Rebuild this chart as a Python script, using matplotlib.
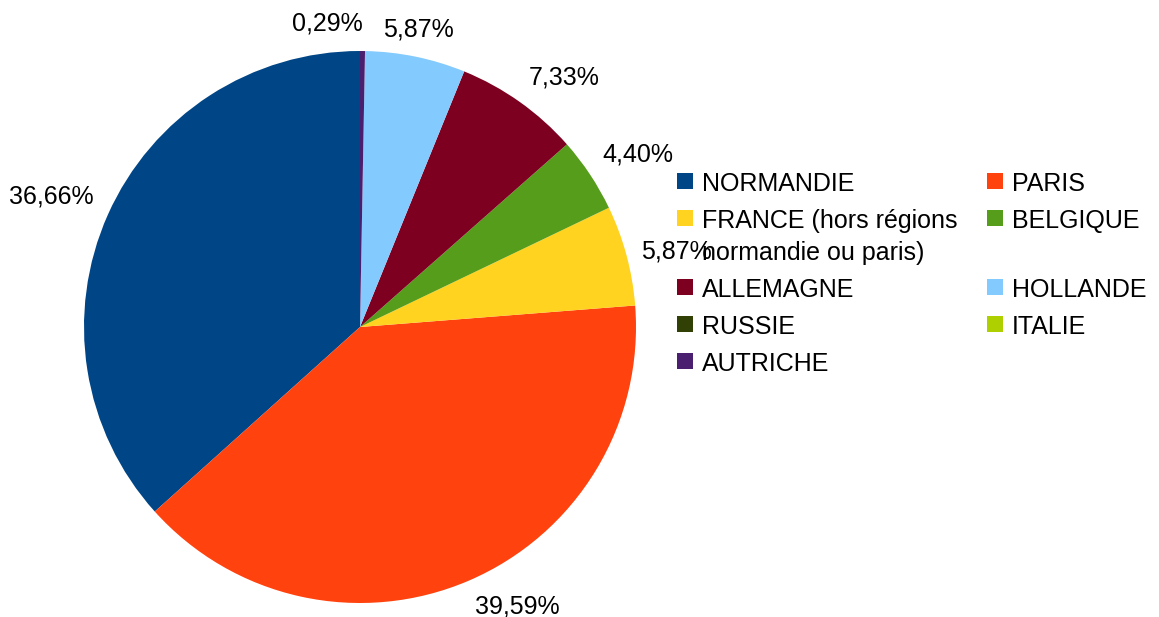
import numpy as np
import matplotlib
matplotlib.use('Agg')
import matplotlib.pyplot as plt
from matplotlib.patches import Rectangle

plt.rcParams['font.family'] = ['Liberation Sans', 'DejaVu Sans']

categories = ['NORMANDIE', 'PARIS', 'FRANCE (hors régions\nnormandie ou paris)', 'BELGIQUE',
              'ALLEMAGNE', 'HOLLANDE', 'RUSSIE', 'ITALIE', 'AUTRICHE']
values = [36.66, 39.59, 5.87, 4.40, 7.33, 5.87, 0.0, 0.0, 0.29]
colors = ['#004586', '#ff420e', '#ffd320', '#579d1c', '#7e0021',
          '#83caff', '#314004', '#aecf00', '#4b1f6f']

W, H = 1159, 617
fig = plt.figure(figsize=(W / 100, H / 100), dpi=100)
ax = fig.add_axes([0, 0, 1, 1])

# pie in pixel-like coordinates (y up)
cx, cy, R = 360, H - 327, 276
wedges, _ = ax.pie(values, colors=colors, startangle=90, counterclock=True,
                   center=(cx, cy), radius=R, wedgeprops=dict(linewidth=0))
ax.set_xlim(0, W)
ax.set_ylim(0, H)
ax.set_aspect('equal')
ax.axis('off')

# labels outside the slices, LibreOffice style
ha_override = {'AUTRICHE': 'right'}
for w, v, cat in zip(wedges, values, categories):
    if v <= 0:
        continue
    t = np.deg2rad((w.theta1 + w.theta2) / 2)
    c, s = np.cos(t), np.sin(t)
    x, y = cx + 1.055 * R * c, cy + 1.055 * R * s
    ha = 'left' if c > 0.3 else ('right' if c < -0.3 else 'center')
    va = 'bottom' if s > 0.3 else ('top' if s < -0.3 else 'center')
    ha = ha_override.get(cat, ha)
    ax.text(x, y, f'{v:.2f}'.replace('.', ',') + '%', ha=ha, va=va, fontsize=18)

# legend drawn by hand: two columns, filled row by row
col_x = [677, 987]
baseline = 191
for r in range(0, len(categories), 2):
    row = categories[r:r + 2]
    for j, cat in enumerate(row):
        x = col_x[j]
        ax.add_patch(Rectangle((x, H - (baseline - 2)), 16, 16,
                               color=colors[r + j], linewidth=0))
        for k, line in enumerate(cat.split('\n')):
            ax.text(x + 25, H - (baseline + 32 * k), line, ha='left',
                    va='baseline', fontsize=18)
    nlines = max(c.count('\n') + 1 for c in row)
    baseline += 37 + 32 * (nlines - 1)

fig.savefig('out.png', dpi=100)
